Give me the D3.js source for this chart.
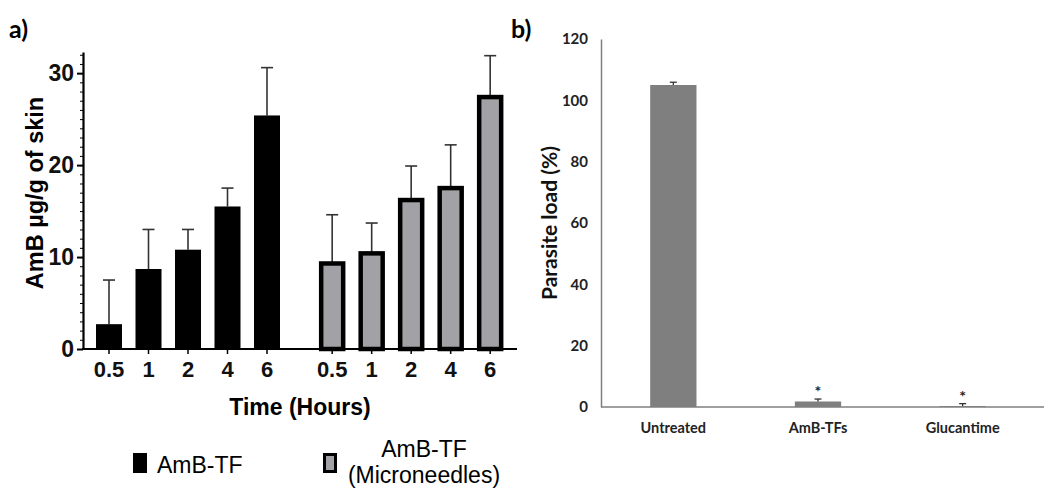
<!DOCTYPE html>
<html>
<head>
<meta charset="utf-8">
<script src="https://cdn.jsdelivr.net/npm/d3@7"></script>
<style>
  body { margin: 0; background: #fff; }
  svg { display: block; }
</style>
</head>
<body>
<script>
const width = 1044;
const height = 489;

// panel a data (AmB per g of skin, mean and upper SD)
const times = ["0.5", "1", "2", "4", "6"];
const tfMean = [2.7, 8.7, 10.8, 15.5, 25.4];
const tfErr = [4.8, 4.3, 2.2, 2.0, 5.2];
const mnMean = [9.3, 10.4, 16.2, 17.5, 27.4];
const mnErr = [5.3, 3.3, 3.7, 4.7, 4.5];
const aTicks = [0, 10, 20, 30];

// panel b data (parasite load %)
const treatments = ["Untreated", "AmB-TFs", "Glucantime"];
const load = [105, 1.8, 0.3];
const loadErr = [0.9, 0.8, 0.8];
const signif = ["", "*", "*"];
const bTicks = [0, 20, 40, 60, 80, 100, 120];

const svg = d3.select("body").append("svg")
    .attr("width", width)
    .attr("height", height)
    .attr("viewBox", `0 0 ${width} ${height}`);

const arial = "'Liberation Sans', Arial, sans-serif";
const calibri = "Lato, 'Open Sans', sans-serif";

// ---------- panel a ----------
const ay = d3.scaleLinear().domain([0, 32.3]).range([349, 52]);
// slot positions: second group shifted by a gap
const groupGap = 5.65;
const ax = d3.scaleLinear().domain([0, 4]).range([109, 267]);

const rows = [];
times.forEach((t, i) => rows.push({t, g: 0, slot: i, v: tfMean[i], e: tfErr[i]}));
times.forEach((t, i) => rows.push({t, g: 1, slot: i + groupGap, v: mnMean[i], e: mnErr[i]}));

const a = svg.append("g");

// minor ticks
a.append("g")
    .attr("transform", "translate(83,0)")
    .call(d3.axisLeft(ay).tickValues(d3.range(0, 33)).tickSize(3).tickFormat(""))
    .call(g => g.select(".domain").remove())
    .selectAll("line").attr("stroke", "#000").attr("stroke-width", 1);

const yAxisA = a.append("g")
    .attr("transform", "translate(83,0)")
    .call(d3.axisLeft(ay).tickValues(aTicks).tickSize(6).tickPadding(3).tickSizeOuter(0));
yAxisA.select(".domain").attr("stroke-width", 2.2);
yAxisA.selectAll("line").attr("stroke-width", 2);
yAxisA.selectAll("text")
    .attr("font-family", arial).attr("font-weight", "bold").attr("font-size", 23).attr("fill", "#111");

// error bars (drawn behind bars)
const errA = a.append("g").selectAll("g").data(rows).join("g")
    .attr("stroke", "#333").attr("stroke-width", 1.6);
errA.append("line")
    .attr("x1", d => ax(d.slot)).attr("x2", d => ax(d.slot))
    .attr("y1", d => ay(d.v)).attr("y2", d => ay(d.v + d.e));
errA.append("line")
    .attr("x1", d => ax(d.slot) - 6).attr("x2", d => ax(d.slot) + 6)
    .attr("y1", d => ay(d.v + d.e)).attr("y2", d => ay(d.v + d.e));

a.append("g").selectAll("rect").data(rows).join("rect")
    .attr("x", d => ax(d.slot) - (d.g ? 11 : 13))
    .attr("width", d => d.g ? 22 : 26)
    .attr("y", d => ay(d.v))
    .attr("height", d => ay(0) - ay(d.v))
    .attr("fill", d => d.g ? "#a2a2a6" : "#000")
    .attr("stroke", d => d.g ? "#000" : "none")
    .attr("stroke-width", 4.5);

// x axis
a.append("line")
    .attr("x1", 82).attr("x2", 517)
    .attr("y1", ay(0)).attr("y2", ay(0))
    .attr("stroke", "#000").attr("stroke-width", 2.2);
a.append("g").selectAll("line").data(rows).join("line")
    .attr("x1", d => ax(d.slot)).attr("x2", d => ax(d.slot))
    .attr("y1", ay(0)).attr("y2", ay(0) + 5)
    .attr("stroke", "#000").attr("stroke-width", 1.5);
a.append("g").selectAll("text").data(rows).join("text")
    .attr("x", d => ax(d.slot))
    .attr("y", ay(0) + 28)
    .attr("text-anchor", "middle")
    .attr("font-family", arial).attr("font-weight", "bold").attr("font-size", 22).attr("fill", "#111")
    .text(d => d.t);

a.append("text")
    .attr("x", 300).attr("y", 415)
    .attr("text-anchor", "middle")
    .attr("font-family", arial).attr("font-weight", "bold").attr("font-size", 23)
    .text("Time (Hours)");

a.append("text")
    .attr("transform", "translate(43,193) rotate(-90)")
    .attr("text-anchor", "middle")
    .attr("font-family", arial).attr("font-weight", "bold").attr("font-size", 23.5)
    .text("AmB µg/g of skin");

a.append("text")
    .attr("x", 9).attr("y", 38)
    .attr("font-family", calibri).attr("font-weight", "bold").attr("font-size", 25)
    .text("a)");

// legend
a.append("rect").attr("x", 133).attr("y", 453).attr("width", 14).attr("height", 20).attr("fill", "#000");
a.append("text").attr("x", 157).attr("y", 473)
    .attr("font-family", arial).attr("font-size", 23).text("AmB-TF");
a.append("rect").attr("x", 324.5).attr("y", 454.5).attr("width", 11).attr("height", 17)
    .attr("fill", "#a2a2a6").attr("stroke", "#000").attr("stroke-width", 3);
a.append("text").attr("x", 424).attr("y", 457).attr("text-anchor", "middle")
    .attr("font-family", arial).attr("font-size", 23).text("AmB-TF");
a.append("text").attr("x", 424).attr("y", 483).attr("text-anchor", "middle")
    .attr("font-family", arial).attr("font-size", 23).text("(Microneedles)");

// ---------- panel b ----------
const by = d3.scaleLinear().domain([0, 120]).range([407, 39]);
const bx = d3.scaleBand().domain(treatments).range([601, 1035]).paddingInner(0.68).paddingOuter(0.34);

const b = svg.append("g");

const yAxisB = b.append("g")
    .attr("transform", "translate(601,0)")
    .call(d3.axisLeft(by).tickValues(bTicks).tickSize(0).tickPadding(13));
yAxisB.select(".domain").attr("stroke", "#7f7f7f").attr("stroke-width", 1.5);
yAxisB.selectAll("text")
    .attr("font-family", calibri).attr("font-weight", "bold").attr("font-size", 15).attr("fill", "#222");

b.append("g").selectAll("rect").data(treatments).join("rect")
    .attr("x", d => bx(d))
    .attr("width", bx.bandwidth())
    .attr("y", (d, i) => by(load[i]))
    .attr("height", (d, i) => by(0) - by(load[i]))
    .attr("fill", "#7f7f7f");

const errB = b.append("g").selectAll("g").data(treatments).join("g")
    .attr("stroke", "#333").attr("stroke-width", 1.3);
errB.append("line")
    .attr("x1", d => bx(d) + bx.bandwidth() / 2).attr("x2", d => bx(d) + bx.bandwidth() / 2)
    .attr("y1", (d, i) => by(load[i])).attr("y2", (d, i) => by(load[i] + loadErr[i]));
errB.append("line")
    .attr("x1", d => bx(d) + bx.bandwidth() / 2 - 3.5).attr("x2", d => bx(d) + bx.bandwidth() / 2 + 3.5)
    .attr("y1", (d, i) => by(load[i] + loadErr[i])).attr("y2", (d, i) => by(load[i] + loadErr[i]));

b.append("g").selectAll("text").data(treatments).join("text")
    .attr("x", d => bx(d) + bx.bandwidth() / 2)
    .attr("y", (d, i) => by(load[i] + loadErr[i]) - 2)
    .attr("text-anchor", "middle")
    .attr("font-family", calibri).attr("font-weight", "bold").attr("font-size", 16).attr("fill", "#222")
    .text((d, i) => signif[i]);

b.append("line")
    .attr("x1", 601).attr("x2", 1044)
    .attr("y1", by(0)).attr("y2", by(0))
    .attr("stroke", "#7f7f7f").attr("stroke-width", 1.5);

b.append("g").selectAll("text").data(treatments).join("text")
    .attr("x", d => bx(d) + bx.bandwidth() / 2)
    .attr("y", 433)
    .attr("text-anchor", "middle")
    .attr("font-family", calibri).attr("font-weight", "bold").attr("font-size", 14.5).attr("fill", "#222")
    .text(d => d);

b.append("text")
    .attr("transform", "translate(557,223) rotate(-90)")
    .attr("text-anchor", "middle")
    .attr("font-family", calibri).attr("font-weight", "bold").attr("font-size", 21).attr("fill", "#111")
    .text("Parasite load (%)");

b.append("text")
    .attr("x", 511).attr("y", 38)
    .attr("font-family", calibri).attr("font-weight", "bold").attr("font-size", 25)
    .text("b)");
</script>
</body>
</html>
